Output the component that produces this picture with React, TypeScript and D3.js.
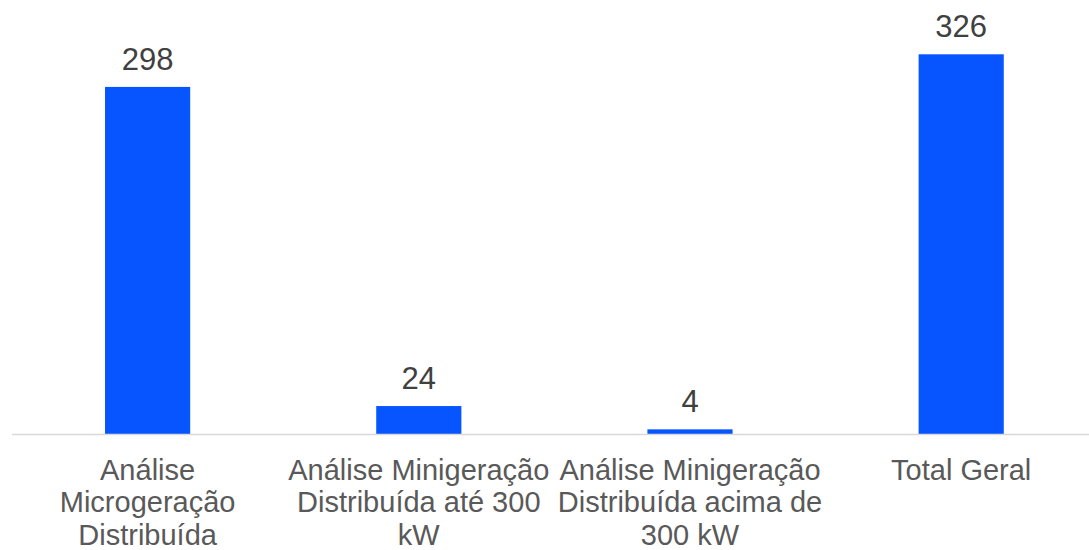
import React from "react";
import * as d3 from "d3";

const categories: string[] = [
  "Análise Microgeração Distribuída",
  "Análise Minigeração Distribuída até 300 kW",
  "Análise Minigeração Distribuída acima de 300 kW",
  "Total Geral",
];
const categoryLines: string[][] = [
  ["Análise", "Microgeração", "Distribuída"],
  ["Análise Minigeração", "Distribuída até 300", "kW"],
  ["Análise Minigeração", "Distribuída acima de", "300 kW"],
  ["Total Geral"],
];
const values: number[] = [298, 24, 4, 326];

const W = 1089;
const H = 550;
const baseY = 434;
const topY = 54.3;
const left = 12;
const right = 1096.8;

export default function App() {
  const x = d3.scaleBand<string>().domain(categories).range([left, right]).padding(0);
  const y = d3.scaleLinear().domain([0, d3.max(values) as number]).range([baseY, topY]);
  const barW = x.bandwidth() * 0.314;
  const font = "'Liberation Sans', Arial, sans-serif";

  return (
    <svg
      width={W}
      height={H}
      style={{ position: "absolute", left: 0, top: 0, display: "block", background: "#fff" }}
    >
      {categories.map((c, i) => {
        const cx = (x(c) as number) + x.bandwidth() / 2;
        return (
          <g key={c}>
            <rect
              x={cx - barW / 2}
              y={y(values[i])}
              width={barW}
              height={baseY - y(values[i])}
              fill="#0655ff"
            />
            <text
              x={cx}
              y={y(values[i]) - 17}
              textAnchor="middle"
              fontFamily={font}
              fontSize={31}
              fill="#404040"
            >
              {values[i]}
            </text>
            <text textAnchor="middle" fontFamily={font} fontSize={29} fill="#595959">
              {categoryLines[i].map((ln, j) => (
                <tspan key={j} x={cx} y={479.5 + j * 32.5}>
                  {ln}
                </tspan>
              ))}
            </text>
          </g>
        );
      })}
      <line x1={left} x2={W} y1={baseY + 0.5} y2={baseY + 0.5} stroke="#d9d9d9" strokeWidth={1.5} />
    </svg>
  );
}
